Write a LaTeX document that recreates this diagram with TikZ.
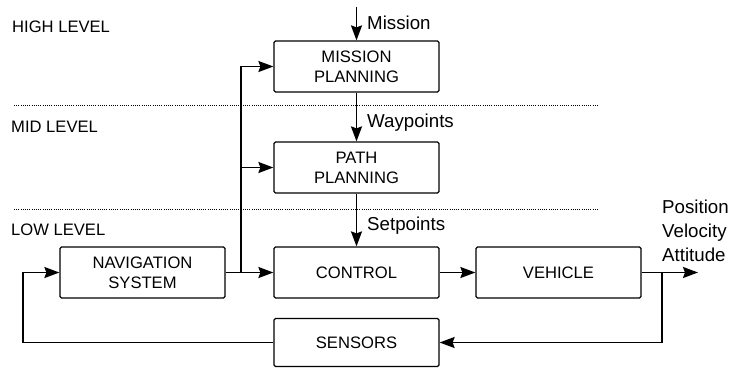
\documentclass[tikz,border=0pt]{standalone}
\usepackage{fontspec}
\setmainfont{Liberation Sans}
\usetikzlibrary{arrows.meta}
\begin{document}
\begin{tikzpicture}[x=1pt,y=-1pt,
  blk/.style={draw,line width=1.2pt,rounded corners=1.5pt,minimum width=165pt,minimum height=51pt,inner sep=0pt,align=center,font=\fontsize{16.6}{20}\selectfont},
  lvl/.style={anchor=base west,inner sep=0pt,font=\fontsize{16.6}{20}\selectfont},
  lbl/.style={anchor=base west,inner sep=0pt,font=\fontsize{18.7}{24}\selectfont},
  conn/.style={line width=1.8pt,-{Stealth[length=15pt,width=11pt,inset=2pt]}},
  wire/.style={line width=1.8pt},
  sep/.style={line width=0.8pt,dash pattern=on 1pt off 1.2pt}]
\useasboundingbox (0,0) rectangle (730,368);
\node[blk] (mis) at (356.5,66.5) {MISSION\\PLANNING};
\node[blk] (pat) at (356.5,167.5) {PATH\\PLANNING};
\node[blk] (nav) at (142.5,272.5) {NAVIGATION\\SYSTEM};
\node[blk] (ctl) at (356.5,272.5) {CONTROL};
\node[blk] (veh) at (558.5,272.5) {VEHICLE};
\node[blk,minimum height=48pt] (sen) at (356.5,342.5) {SENSORS};
\node[lvl] (hl) at (12,32) {HIGH LEVEL};
\node[lvl] (ml) at (11,132) {MID LEVEL};
\node[lvl] (ll) at (11,235) {LOW LEVEL};
\draw[sep] (14,105) -- (598,105);
\draw[sep] (14,209) -- (598,209);
\coordinate (min) at (356.5,7);
\draw[conn] (min) -- (mis.north);
\node[lbl] (lmis) at (367,29.5) {Mission};
\draw[conn] (mis.south) -- (pat.north);
\node[lbl] (lway) at (367,127) {Waypoints};
\draw[conn] (pat.south) -- (ctl.north);
\node[lbl] (lset) at (367,230) {Setpoints};
\draw[conn] (nav.east) -- (ctl.west);
\coordinate (j) at (241,272.5);
\draw[conn] (j) |- (mis.west);
\draw[conn] (j) |- (pat.west);
\draw[conn] (ctl.east) -- (veh.west);
\coordinate (out) at (698,272.5);
\coordinate (b) at (662,272.5);
\draw[conn] (veh.east) -- (out);
\draw[conn] (b) |- (sen.east);
\coordinate (fb) at (23,342.5);
\draw[wire] (sen.west) -- (fb);
\draw[conn] (fb) |- (nav.west);
\node[anchor=north west,inner sep=0pt,align=left,font=\fontsize{18.7}{24}\selectfont] (lout) at (662,199.5) {Position\\Velocity\\Attitude};
\end{tikzpicture}
\end{document}
